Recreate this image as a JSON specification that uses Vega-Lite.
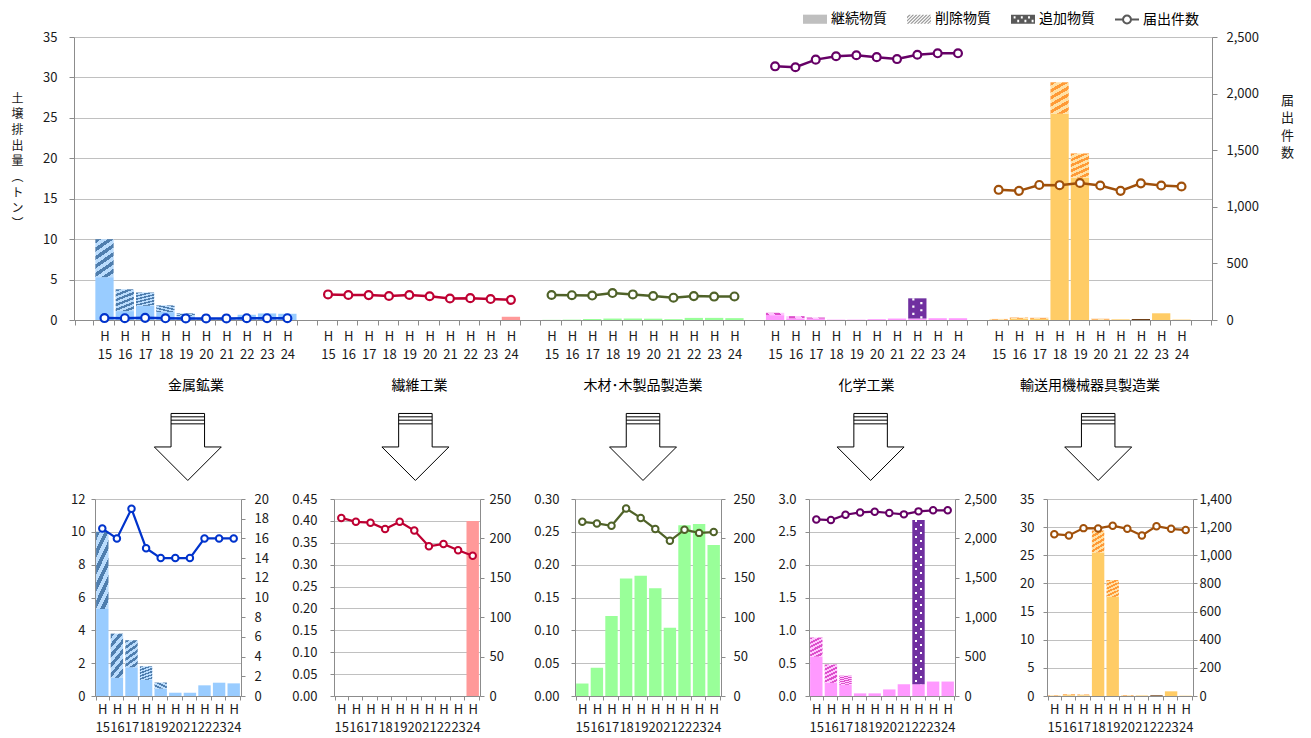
{
  "$schema": "https://vega.github.io/schema/vega-lite/v6.json",
  "background": "white",
  "padding": {"left": 10, "top": 6, "right": 5, "bottom": 0},
  "bounds": "flush",
  "spacing": 0,
  "config": {
    "font": "Noto Sans CJK JP",
    "view": {"stroke": null},
    "axis": {
      "labelFont": "Noto Sans CJK JP",
      "titleFont": "Noto Sans CJK JP",
      "labelFontSize": 13,
      "labelColor": "#1a1a1a",
      "titleColor": "#1a1a1a",
      "domainColor": "#8c8c8c",
      "tickColor": "#8c8c8c",
      "gridColor": "#c0c0c0",
      "gridWidth": 1.2,
      "domainWidth": 1
    },
    "text": {"font": "Noto Sans CJK JP"}
  },
  "datasets": {
    "bars": [
      {"ind": "金属鉱業", "yr": "H15", "type": "継続物質", "t": 5.3},
      {"ind": "金属鉱業", "yr": "H15", "type": "削除物質", "t": 4.7},
      {"ind": "金属鉱業", "yr": "H16", "type": "継続物質", "t": 1.1},
      {"ind": "金属鉱業", "yr": "H16", "type": "削除物質", "t": 2.7},
      {"ind": "金属鉱業", "yr": "H17", "type": "継続物質", "t": 1.75},
      {"ind": "金属鉱業", "yr": "H17", "type": "削除物質", "t": 1.65},
      {"ind": "金属鉱業", "yr": "H18", "type": "継続物質", "t": 0.98},
      {"ind": "金属鉱業", "yr": "H18", "type": "削除物質", "t": 0.83},
      {"ind": "金属鉱業", "yr": "H19", "type": "継続物質", "t": 0.45},
      {"ind": "金属鉱業", "yr": "H19", "type": "削除物質", "t": 0.37},
      {"ind": "金属鉱業", "yr": "H20", "type": "継続物質", "t": 0.2},
      {"ind": "金属鉱業", "yr": "H21", "type": "継続物質", "t": 0.2},
      {"ind": "金属鉱業", "yr": "H22", "type": "継続物質", "t": 0.65},
      {"ind": "金属鉱業", "yr": "H23", "type": "継続物質", "t": 0.81},
      {"ind": "金属鉱業", "yr": "H24", "type": "継続物質", "t": 0.77},
      {"ind": "繊維工業", "yr": "H24", "type": "継続物質", "t": 0.4},
      {"ind": "木材･木製品製造業", "yr": "H15", "type": "継続物質", "t": 0.019},
      {"ind": "木材･木製品製造業", "yr": "H16", "type": "継続物質", "t": 0.043},
      {"ind": "木材･木製品製造業", "yr": "H17", "type": "継続物質", "t": 0.122},
      {"ind": "木材･木製品製造業", "yr": "H18", "type": "継続物質", "t": 0.179},
      {"ind": "木材･木製品製造業", "yr": "H19", "type": "継続物質", "t": 0.183},
      {"ind": "木材･木製品製造業", "yr": "H20", "type": "継続物質", "t": 0.164},
      {"ind": "木材･木製品製造業", "yr": "H21", "type": "継続物質", "t": 0.104},
      {"ind": "木材･木製品製造業", "yr": "H22", "type": "継続物質", "t": 0.26},
      {"ind": "木材･木製品製造業", "yr": "H23", "type": "継続物質", "t": 0.262},
      {"ind": "木材･木製品製造業", "yr": "H24", "type": "継続物質", "t": 0.23},
      {"ind": "化学工業", "yr": "H15", "type": "継続物質", "t": 0.6},
      {"ind": "化学工業", "yr": "H15", "type": "削除物質", "t": 0.29},
      {"ind": "化学工業", "yr": "H16", "type": "継続物質", "t": 0.2},
      {"ind": "化学工業", "yr": "H16", "type": "削除物質", "t": 0.28},
      {"ind": "化学工業", "yr": "H17", "type": "継続物質", "t": 0.17},
      {"ind": "化学工業", "yr": "H17", "type": "削除物質", "t": 0.14},
      {"ind": "化学工業", "yr": "H18", "type": "継続物質", "t": 0.04},
      {"ind": "化学工業", "yr": "H19", "type": "継続物質", "t": 0.04},
      {"ind": "化学工業", "yr": "H20", "type": "継続物質", "t": 0.1},
      {"ind": "化学工業", "yr": "H21", "type": "継続物質", "t": 0.18},
      {"ind": "化学工業", "yr": "H22", "type": "継続物質", "t": 0.18},
      {"ind": "化学工業", "yr": "H22", "type": "追加物質", "t": 2.5},
      {"ind": "化学工業", "yr": "H23", "type": "継続物質", "t": 0.22},
      {"ind": "化学工業", "yr": "H24", "type": "継続物質", "t": 0.22},
      {"ind": "輸送用機械器具製造業", "yr": "H15", "type": "継続物質", "t": 0.05},
      {"ind": "輸送用機械器具製造業", "yr": "H15", "type": "削除物質", "t": 0.08},
      {"ind": "輸送用機械器具製造業", "yr": "H16", "type": "継続物質", "t": 0.15},
      {"ind": "輸送用機械器具製造業", "yr": "H16", "type": "削除物質", "t": 0.15},
      {"ind": "輸送用機械器具製造業", "yr": "H17", "type": "継続物質", "t": 0.15},
      {"ind": "輸送用機械器具製造業", "yr": "H17", "type": "削除物質", "t": 0.12},
      {"ind": "輸送用機械器具製造業", "yr": "H18", "type": "継続物質", "t": 25.5},
      {"ind": "輸送用機械器具製造業", "yr": "H18", "type": "削除物質", "t": 3.9},
      {"ind": "輸送用機械器具製造業", "yr": "H19", "type": "継続物質", "t": 17.6},
      {"ind": "輸送用機械器具製造業", "yr": "H19", "type": "削除物質", "t": 3.0},
      {"ind": "輸送用機械器具製造業", "yr": "H20", "type": "継続物質", "t": 0.05},
      {"ind": "輸送用機械器具製造業", "yr": "H20", "type": "削除物質", "t": 0.1},
      {"ind": "輸送用機械器具製造業", "yr": "H21", "type": "継続物質", "t": 0.08},
      {"ind": "輸送用機械器具製造業", "yr": "H22", "type": "追加物質", "t": 0.12},
      {"ind": "輸送用機械器具製造業", "yr": "H23", "type": "継続物質", "t": 0.83},
      {"ind": "輸送用機械器具製造業", "yr": "H24", "type": "継続物質", "t": 0.05}
    ],
    "counts": [
      {"ind": "金属鉱業", "yr": "H15", "n": 17},
      {"ind": "金属鉱業", "yr": "H16", "n": 16},
      {"ind": "金属鉱業", "yr": "H17", "n": 19},
      {"ind": "金属鉱業", "yr": "H18", "n": 15},
      {"ind": "金属鉱業", "yr": "H19", "n": 14},
      {"ind": "金属鉱業", "yr": "H20", "n": 14},
      {"ind": "金属鉱業", "yr": "H21", "n": 14},
      {"ind": "金属鉱業", "yr": "H22", "n": 16},
      {"ind": "金属鉱業", "yr": "H23", "n": 16},
      {"ind": "金属鉱業", "yr": "H24", "n": 16},
      {"ind": "繊維工業", "yr": "H15", "n": 226},
      {"ind": "繊維工業", "yr": "H16", "n": 221},
      {"ind": "繊維工業", "yr": "H17", "n": 220},
      {"ind": "繊維工業", "yr": "H18", "n": 212},
      {"ind": "繊維工業", "yr": "H19", "n": 221},
      {"ind": "繊維工業", "yr": "H20", "n": 210},
      {"ind": "繊維工業", "yr": "H21", "n": 190},
      {"ind": "繊維工業", "yr": "H22", "n": 193},
      {"ind": "繊維工業", "yr": "H23", "n": 185},
      {"ind": "繊維工業", "yr": "H24", "n": 178},
      {"ind": "木材･木製品製造業", "yr": "H15", "n": 221},
      {"ind": "木材･木製品製造業", "yr": "H16", "n": 219},
      {"ind": "木材･木製品製造業", "yr": "H17", "n": 216},
      {"ind": "木材･木製品製造業", "yr": "H18", "n": 238},
      {"ind": "木材･木製品製造業", "yr": "H19", "n": 226},
      {"ind": "木材･木製品製造業", "yr": "H20", "n": 212},
      {"ind": "木材･木製品製造業", "yr": "H21", "n": 197},
      {"ind": "木材･木製品製造業", "yr": "H22", "n": 211},
      {"ind": "木材･木製品製造業", "yr": "H23", "n": 207},
      {"ind": "木材･木製品製造業", "yr": "H24", "n": 208},
      {"ind": "化学工業", "yr": "H15", "n": 2241},
      {"ind": "化学工業", "yr": "H16", "n": 2233},
      {"ind": "化学工業", "yr": "H17", "n": 2300},
      {"ind": "化学工業", "yr": "H18", "n": 2330},
      {"ind": "化学工業", "yr": "H19", "n": 2339},
      {"ind": "化学工業", "yr": "H20", "n": 2322},
      {"ind": "化学工業", "yr": "H21", "n": 2305},
      {"ind": "化学工業", "yr": "H22", "n": 2343},
      {"ind": "化学工業", "yr": "H23", "n": 2356},
      {"ind": "化学工業", "yr": "H24", "n": 2356},
      {"ind": "輸送用機械器具製造業", "yr": "H15", "n": 1150},
      {"ind": "輸送用機械器具製造業", "yr": "H16", "n": 1141},
      {"ind": "輸送用機械器具製造業", "yr": "H17", "n": 1193},
      {"ind": "輸送用機械器具製造業", "yr": "H18", "n": 1191},
      {"ind": "輸送用機械器具製造業", "yr": "H19", "n": 1210},
      {"ind": "輸送用機械器具製造業", "yr": "H20", "n": 1188},
      {"ind": "輸送用機械器具製造業", "yr": "H21", "n": 1141},
      {"ind": "輸送用機械器具製造業", "yr": "H22", "n": 1207},
      {"ind": "輸送用機械器具製造業", "yr": "H23", "n": 1188},
      {"ind": "輸送用機械器具製造業", "yr": "H24", "n": 1179}
    ],
    "inds": [
      {"ind": "金属鉱業"},
      {"ind": "繊維工業"},
      {"ind": "木材･木製品製造業"},
      {"ind": "化学工業"},
      {"ind": "輸送用機械器具製造業"}
    ]
  },
  "vconcat": [
    {
      "width": 1138,
      "height": 283,
      "encoding": {
        "x": {
          "field": "slot",
          "type": "nominal",
          "scale": {
            "domain": ["_0", "aH15", "aH16", "aH17", "aH18", "aH19", "aH20", "aH21", "aH22", "aH23", "aH24",
                       "_1", "bH15", "bH16", "bH17", "bH18", "bH19", "bH20", "bH21", "bH22", "bH23", "bH24",
                       "_2", "cH15", "cH16", "cH17", "cH18", "cH19", "cH20", "cH21", "cH22", "cH23", "cH24",
                       "_3", "dH15", "dH16", "dH17", "dH18", "dH19", "dH20", "dH21", "dH22", "dH23", "dH24",
                       "_4", "eH15", "eH16", "eH17", "eH18", "eH19", "eH20", "eH21", "eH22", "eH23", "eH24", "_5"],
            "paddingInner": 0.1,
            "paddingOuter": 0.05
          },
          "axis": {
            "title": null,
            "labelExpr": "isString(datum.value) && substring(datum.value, 0, 1) !== '_' ? ['H', substring(datum.value, 2)] : ''",
            "labelAngle": 0,
            "tickBand": "extent",
            "tickSize": 5,
            "labelPadding": 5,
            "labelLineHeight": 18,
            "labelOverlap": false,
            "grid": false
          }
        }
      },
      "layer": [
        {
          "data": {"name": "bars"},
          "transform": [
            {"calculate": "['a','b','c','d','e'][indexof(['金属鉱業','繊維工業','木材･木製品製造業','化学工業','輸送用機械器具製造業'], datum.ind)] + datum.yr", "as": "slot"},
            {"calculate": "indexof(['継続物質','削除物質','追加物質'], datum.type)", "as": "ord"},
            {"stack": "t", "groupby": ["slot"], "sort": [{"field": "ord", "order": "ascending"}], "as": ["t0", "t1"]}
          ],
          "encoding": {
            "y": {
              "field": "t1",
              "type": "quantitative",
              "scale": {"domain": [0, 35], "nice": false},
              "axis": {
                "title": ["土", "壌", "排", "出", "量", "︵", "ト", "ン", "︶"],
                "titleAngle": 0,
                "titleAlign": "center",
                "titleBaseline": "middle",
                "titleX": -57,
                "titleY": 61,
                "titleLineHeight": 15.7,
                "titleFontSize": 12,
                "titleFontWeight": "normal",
                "values": [0, 5, 10, 15, 20, 25, 30, 35],
                "grid": true,
                "tickSize": 5,
                "labelPadding": 12
              }
            },
            "y2": {"field": "t0"}
          },
          "layer": [
            {
              "mark": {"type": "bar"},
              "encoding": {
                "fill": {
                  "condition": [
                    {"test": "datum.type === '削除物質' && datum.ind === '金属鉱業'",
                     "value": {"gradient": "linear", "x1": 0, "y1": 0, "x2": 0.4, "y2": 1.2, "stops": [
                       {"offset": 0, "color": "#4F7EAE"}, {"offset": 0.083, "color": "#4F7EAE"}, {"offset": 0.083, "color": "#BADCFD"}, {"offset": 0.167, "color": "#BADCFD"},
                       {"offset": 0.167, "color": "#4F7EAE"}, {"offset": 0.25, "color": "#4F7EAE"}, {"offset": 0.25, "color": "#BADCFD"}, {"offset": 0.333, "color": "#BADCFD"},
                       {"offset": 0.333, "color": "#4F7EAE"}, {"offset": 0.417, "color": "#4F7EAE"}, {"offset": 0.417, "color": "#BADCFD"}, {"offset": 0.5, "color": "#BADCFD"},
                       {"offset": 0.5, "color": "#4F7EAE"}, {"offset": 0.583, "color": "#4F7EAE"}, {"offset": 0.583, "color": "#BADCFD"}, {"offset": 0.667, "color": "#BADCFD"},
                       {"offset": 0.667, "color": "#4F7EAE"}, {"offset": 0.75, "color": "#4F7EAE"}, {"offset": 0.75, "color": "#BADCFD"}, {"offset": 0.833, "color": "#BADCFD"},
                       {"offset": 0.833, "color": "#4F7EAE"}, {"offset": 0.917, "color": "#4F7EAE"}, {"offset": 0.917, "color": "#BADCFD"}, {"offset": 1, "color": "#BADCFD"}]}},
                    {"test": "datum.type === '削除物質' && datum.ind === '化学工業'",
                     "value": {"gradient": "linear", "x1": 0, "y1": 0, "x2": 0.4, "y2": 1.2, "stops": [
                       {"offset": 0, "color": "#DD4FCB"}, {"offset": 0.083, "color": "#DD4FCB"}, {"offset": 0.083, "color": "#FFC6FF"}, {"offset": 0.167, "color": "#FFC6FF"},
                       {"offset": 0.167, "color": "#DD4FCB"}, {"offset": 0.25, "color": "#DD4FCB"}, {"offset": 0.25, "color": "#FFC6FF"}, {"offset": 0.333, "color": "#FFC6FF"},
                       {"offset": 0.333, "color": "#DD4FCB"}, {"offset": 0.417, "color": "#DD4FCB"}, {"offset": 0.417, "color": "#FFC6FF"}, {"offset": 0.5, "color": "#FFC6FF"},
                       {"offset": 0.5, "color": "#DD4FCB"}, {"offset": 0.583, "color": "#DD4FCB"}, {"offset": 0.583, "color": "#FFC6FF"}, {"offset": 0.667, "color": "#FFC6FF"},
                       {"offset": 0.667, "color": "#DD4FCB"}, {"offset": 0.75, "color": "#DD4FCB"}, {"offset": 0.75, "color": "#FFC6FF"}, {"offset": 0.833, "color": "#FFC6FF"},
                       {"offset": 0.833, "color": "#DD4FCB"}, {"offset": 0.917, "color": "#DD4FCB"}, {"offset": 0.917, "color": "#FFC6FF"}, {"offset": 1, "color": "#FFC6FF"}]}},
                    {"test": "datum.type === '削除物質' && datum.ind === '輸送用機械器具製造業'",
                     "value": {"gradient": "linear", "x1": 0, "y1": 0, "x2": 0.4, "y2": 1.2, "stops": [
                       {"offset": 0, "color": "#FF9A36"}, {"offset": 0.083, "color": "#FF9A36"}, {"offset": 0.083, "color": "#FFE1A6"}, {"offset": 0.167, "color": "#FFE1A6"},
                       {"offset": 0.167, "color": "#FF9A36"}, {"offset": 0.25, "color": "#FF9A36"}, {"offset": 0.25, "color": "#FFE1A6"}, {"offset": 0.333, "color": "#FFE1A6"},
                       {"offset": 0.333, "color": "#FF9A36"}, {"offset": 0.417, "color": "#FF9A36"}, {"offset": 0.417, "color": "#FFE1A6"}, {"offset": 0.5, "color": "#FFE1A6"},
                       {"offset": 0.5, "color": "#FF9A36"}, {"offset": 0.583, "color": "#FF9A36"}, {"offset": 0.583, "color": "#FFE1A6"}, {"offset": 0.667, "color": "#FFE1A6"},
                       {"offset": 0.667, "color": "#FF9A36"}, {"offset": 0.75, "color": "#FF9A36"}, {"offset": 0.75, "color": "#FFE1A6"}, {"offset": 0.833, "color": "#FFE1A6"},
                       {"offset": 0.833, "color": "#FF9A36"}, {"offset": 0.917, "color": "#FF9A36"}, {"offset": 0.917, "color": "#FFE1A6"}, {"offset": 1, "color": "#FFE1A6"}]}},
                    {"test": "datum.type === '追加物質' && datum.ind === '化学工業'", "value": "#7030A0"},
                    {"test": "datum.type === '追加物質'", "value": "#6B3A10"}
                  ],
                  "field": "ind",
                  "type": "nominal",
                  "scale": {
                    "domain": ["金属鉱業", "繊維工業", "木材･木製品製造業", "化学工業", "輸送用機械器具製造業"],
                    "range": ["#99CCFF", "#FF9999", "#99FF99", "#FF99FF", "#FFCC66"]
                  },
                  "legend": null
                }
              }
            },
            {
              "transform": [{"filter": "datum.type === '追加物質' && datum.ind === '化学工業'"}],
              "mark": {"type": "rule", "stroke": "white", "strokeWidth": 2.2, "strokeDash": [2.2, 5], "strokeCap": "butt", "xOffset": -4}
            },
            {
              "transform": [{"filter": "datum.type === '追加物質' && datum.ind === '化学工業'"}],
              "mark": {"type": "rule", "stroke": "white", "strokeWidth": 2.2, "strokeDash": [2.2, 5], "strokeDashOffset": 3.6, "strokeCap": "butt", "xOffset": 4}
            }
          ]
        },
        {
          "data": {"name": "counts"},
          "transform": [
            {"calculate": "['a','b','c','d','e'][indexof(['金属鉱業','繊維工業','木材･木製品製造業','化学工業','輸送用機械器具製造業'], datum.ind)] + datum.yr", "as": "slot"}
          ],
          "encoding": {
            "y": {
              "field": "n",
              "type": "quantitative",
              "scale": {"domain": [0, 2500], "nice": false},
              "axis": {
                "orient": "right",
                "title": ["届", "出", "件", "数"],
                "titleAngle": 0,
                "titleAlign": "center",
                "titleBaseline": "middle",
                "titleX": 75,
                "titleY": 63,
                "titleLineHeight": 17.5,
                "titleFontSize": 13,
                "titleFontWeight": "normal",
                "values": [0, 500, 1000, 1500, 2000, 2500],
                "format": ",.0f",
                "grid": false,
                "tickSize": 5,
                "labelPadding": 9
              }
            },
            "stroke": {
              "field": "ind",
              "type": "nominal",
              "scale": {
                "domain": ["金属鉱業", "繊維工業", "木材･木製品製造業", "化学工業", "輸送用機械器具製造業"],
                "range": ["#0033CC", "#BE0032", "#4F6228", "#660066", "#A0500A"]
              },
              "legend": null
            }
          },
          "layer": [
            {"mark": {"type": "line", "strokeWidth": 2.5}},
            {"mark": {"type": "point", "filled": true, "fill": "white", "size": 62, "strokeWidth": 2.2, "opacity": 1}}
          ]
        },
        {
          "data": {"values": [{"item": "継続物質"}, {"item": "削除物質"}, {"item": "追加物質"}, {"item": "届出件数"}]},
          "transform": [{"filter": "false"}],
          "mark": {"type": "point", "filled": true, "opacity": 1},
          "encoding": {
            "shape": {
              "field": "item",
              "type": "nominal",
              "scale": {
                "domain": ["継続物質", "削除物質", "追加物質", "届出件数"],
                "range": [
                  "M-1,-0.38H1V0.38H-1Z",
                  "M-1,-0.06L-1,-0.2L-0.82,-0.38L-0.68,-0.38Z M-1,0.22L-1,0.08L-0.54,-0.38L-0.4,-0.38Z M-1,0.36L-0.26,-0.38L-0.12,-0.38L-0.88,0.38L-1,0.38Z M-0.74,0.38L0.02,-0.38L0.16,-0.38L-0.6,0.38Z M-0.46,0.38L0.3,-0.38L0.44,-0.38L-0.32,0.38Z M-0.18,0.38L0.58,-0.38L0.72,-0.38L-0.04,0.38Z M0.1,0.38L0.86,-0.38L1,-0.38L0.24,0.38Z M0.38,0.38L1,-0.24L1,-0.1L0.52,0.38Z M0.66,0.38L1,0.04L1,0.18L0.8,0.38Z M0.94,0.38L1,0.32L1,0.38Z",
                  "M-1,-0.38H1V0.38H-1Z M-0.78,-0.25V-0.05H-0.62V-0.25Z M-0.18,-0.25V-0.05H-0.02V-0.25Z M0.42,-0.25V-0.05H0.58V-0.25Z M-0.48,0.05V0.25H-0.32V0.05Z M0.12,0.05V0.25H0.28V0.05Z M0.72,0.05V0.25H0.88V0.05Z",
                  "M-1,0H-0.33M0.33,0H1M0.33,0A0.33,0.33,0,1,1,-0.33,0A0.33,0.33,0,1,1,0.33,0"
                ]
              },
              "legend": {
                "title": null, "orient": "none", "legendX": 728, "legendY": -31, "direction": "horizontal", "columns": 4,
                "columnPadding": 16, "symbolSize": 576, "symbolStrokeWidth": 2, "symbolOpacity": 1,
                "labelFont": "Noto Sans CJK JP", "labelFontSize": 14, "labelColor": "#000000", "labelOffset": 3, "padding": 0
              }
            },
            "fill": {
              "field": "item",
              "type": "nominal",
              "scale": {
                "domain": ["継続物質", "削除物質", "追加物質", "届出件数"],
                "range": ["#BFBFBF", "#9A9A9A", "#595959", "#FFFFFF"]
              },
              "legend": {
                "title": null, "orient": "none", "legendX": 728, "legendY": -31, "direction": "horizontal", "columns": 4,
                "columnPadding": 16, "symbolSize": 576, "symbolStrokeWidth": 2, "symbolOpacity": 1,
                "labelFont": "Noto Sans CJK JP", "labelFontSize": 14, "labelColor": "#000000", "labelOffset": 3, "padding": 0
              }
            },
            "stroke": {
              "field": "item",
              "type": "nominal",
              "scale": {
                "domain": ["継続物質", "削除物質", "追加物質", "届出件数"],
                "range": ["transparent", "transparent", "transparent", "#595959"]
              },
              "legend": {
                "title": null, "orient": "none", "legendX": 728, "legendY": -31, "direction": "horizontal", "columns": 4,
                "columnPadding": 16, "symbolSize": 576, "symbolStrokeWidth": 2, "symbolOpacity": 1,
                "labelFont": "Noto Sans CJK JP", "labelFontSize": 14, "labelColor": "#000000", "labelOffset": 3, "padding": 0
              }
            }
          }
        }
      ],
      "resolve": {"scale": {"y": "independent", "fill": "independent", "stroke": "independent", "shape": "independent"}}
    },
    {
      "width": 1138,
      "height": 179,
      "data": {"name": "inds"},
      "layer": [
        {
          "mark": {"type": "text", "fontSize": 14, "color": "#000000", "font": "Noto Sans CJK JP"},
          "encoding": {
            "x": {"field": "ind", "type": "nominal", "sort": null, "scale": {"type": "point", "domain": ["金属鉱業", "繊維工業", "木材･木製品製造業", "化学工業", "輸送用機械器具製造業"], "padding": 0.546}, "axis": null},
            "y": {"datum": "name", "type": "nominal", "scale": {"type": "point", "domain": ["name", "arrow"], "padding": 0.967, "align": 0.559}, "axis": null},
            "text": {"field": "ind"}
          }
        },
        {
          "mark": {
            "type": "point",
            "shape": "M-0.5,-1L0.5,-1L0.5,0L1,0L0,1L-1,0L-0.5,0Z M-0.5,-0.9L0.5,-0.9 M-0.5,-0.8L0.5,-0.8 M-0.5,-0.69L0.5,-0.69",
            "size": 4489,
            "filled": true,
            "fill": "#FFFFFF",
            "stroke": "#000000",
            "strokeWidth": 1,
            "opacity": 1
          },
          "encoding": {
            "x": {"field": "ind", "type": "nominal", "sort": null, "scale": {"type": "point", "domain": ["金属鉱業", "繊維工業", "木材･木製品製造業", "化学工業", "輸送用機械器具製造業"], "padding": 0.5}, "axis": null},
            "y": {"datum": "arrow", "type": "nominal", "scale": {"type": "point", "domain": ["name", "arrow"], "padding": 0.967, "align": 0.559}, "axis": null}
          }
        }
      ],
      "resolve": {"scale": {"x": "independent"}}
    },
    {
      "bounds": "full",
      "spacing": -24,
      "hconcat": [
        {
          "width": 0,
          "height": 1,
          "data": {"values": []},
          "mark": {"type": "point", "opacity": 0}
        },
        {
          "bounds": "full",
          "spacing": 22,
          "hconcat": [
            {
              "width": 146,
              "height": 197,
              "encoding": {
                "x": {"field": "yr", "type": "nominal", "scale": {"domain": ["H15", "H16", "H17", "H18", "H19", "H20", "H21", "H22", "H23", "H24"], "paddingInner": 0.15, "paddingOuter": 0.075},
                      "axis": {"title": null, "labelExpr": "isString(datum.value) ? ['H', substring(datum.value, 1)] : ''", "labelAngle": 0, "tickBand": "extent", "tickSize": 4, "labelPadding": 3, "labelLineHeight": 18, "labelOverlap": false, "grid": false}}
              },
              "layer": [
                {
                  "data": {"name": "bars"},
                  "transform": [
                    {"filter": "datum.ind === '金属鉱業'"},
                    {"calculate": "indexof(['継続物質','削除物質','追加物質'], datum.type)", "as": "ord"},
                    {"stack": "t", "groupby": ["yr"], "sort": [{"field": "ord", "order": "ascending"}], "as": ["t0", "t1"]}
                  ],
                  "mark": {"type": "bar"},
                  "encoding": {
                    "y": {"field": "t1", "type": "quantitative", "scale": {"domain": [0, 12], "nice": false},
                          "axis": {"title": null, "values": [0, 2, 4, 6, 8, 10, 12], "grid": true, "tickSize": 4, "labelPadding": 6}},
                    "y2": {"field": "t0"},
                    "fill": {
                      "condition": {"test": "datum.type === '削除物質'",
                        "value": {"gradient": "linear", "x1": 0, "y1": 0, "x2": 0.4, "y2": 1.2, "stops": [
                          {"offset": 0, "color": "#4F7EAE"}, {"offset": 0.083, "color": "#4F7EAE"}, {"offset": 0.083, "color": "#BADCFD"}, {"offset": 0.167, "color": "#BADCFD"},
                          {"offset": 0.167, "color": "#4F7EAE"}, {"offset": 0.25, "color": "#4F7EAE"}, {"offset": 0.25, "color": "#BADCFD"}, {"offset": 0.333, "color": "#BADCFD"},
                          {"offset": 0.333, "color": "#4F7EAE"}, {"offset": 0.417, "color": "#4F7EAE"}, {"offset": 0.417, "color": "#BADCFD"}, {"offset": 0.5, "color": "#BADCFD"},
                          {"offset": 0.5, "color": "#4F7EAE"}, {"offset": 0.583, "color": "#4F7EAE"}, {"offset": 0.583, "color": "#BADCFD"}, {"offset": 0.667, "color": "#BADCFD"},
                          {"offset": 0.667, "color": "#4F7EAE"}, {"offset": 0.75, "color": "#4F7EAE"}, {"offset": 0.75, "color": "#BADCFD"}, {"offset": 0.833, "color": "#BADCFD"},
                          {"offset": 0.833, "color": "#4F7EAE"}, {"offset": 0.917, "color": "#4F7EAE"}, {"offset": 0.917, "color": "#BADCFD"}, {"offset": 1, "color": "#BADCFD"}]}},
                      "value": "#99CCFF"
                    }
                  }
                },
                {
                  "data": {"name": "counts"},
                  "transform": [{"filter": "datum.ind === '金属鉱業'"}],
                  "encoding": {
                    "y": {"field": "n", "type": "quantitative", "scale": {"domain": [0, 20], "nice": false},
                          "axis": {"orient": "right", "title": null, "values": [0, 2, 4, 6, 8, 10, 12, 14, 16, 18, 20], "grid": false, "tickSize": 4, "labelPadding": 9}}
                  },
                  "layer": [
                    {"mark": {"type": "line", "stroke": "#0033CC", "strokeWidth": 2.2}},
                    {"mark": {"type": "point", "filled": true, "fill": "white", "stroke": "#0033CC", "strokeWidth": 2, "size": 42, "opacity": 1}}
                  ]
                }
              ],
              "resolve": {"scale": {"y": "independent"}}
            },
            {
              "width": 146,
              "height": 197,
              "encoding": {
                "x": {"field": "yr", "type": "nominal", "scale": {"domain": ["H15", "H16", "H17", "H18", "H19", "H20", "H21", "H22", "H23", "H24"], "paddingInner": 0.15, "paddingOuter": 0.075},
                      "axis": {"title": null, "labelExpr": "isString(datum.value) ? ['H', substring(datum.value, 1)] : ''", "labelAngle": 0, "tickBand": "extent", "tickSize": 4, "labelPadding": 3, "labelLineHeight": 18, "labelOverlap": false, "grid": false}}
              },
              "layer": [
                {
                  "data": {"name": "bars"},
                  "transform": [
                    {"filter": "datum.ind === '繊維工業'"},
                    {"calculate": "indexof(['継続物質','削除物質','追加物質'], datum.type)", "as": "ord"},
                    {"stack": "t", "groupby": ["yr"], "sort": [{"field": "ord", "order": "ascending"}], "as": ["t0", "t1"]}
                  ],
                  "mark": {"type": "bar", "fill": "#FF9999"},
                  "encoding": {
                    "y": {"field": "t1", "type": "quantitative", "scale": {"domain": [0, 0.45], "nice": false},
                          "axis": {"title": null, "values": [0, 0.05, 0.1, 0.15, 0.2, 0.25, 0.3, 0.35, 0.4, 0.45], "format": ".2f", "grid": true, "tickSize": 4, "labelPadding": 13}},
                    "y2": {"field": "t0"}
                  }
                },
                {
                  "data": {"name": "counts"},
                  "transform": [{"filter": "datum.ind === '繊維工業'"}],
                  "encoding": {
                    "y": {"field": "n", "type": "quantitative", "scale": {"domain": [0, 250], "nice": false},
                          "axis": {"orient": "right", "title": null, "values": [0, 50, 100, 150, 200, 250], "grid": false, "tickSize": 4, "labelPadding": 5}}
                  },
                  "layer": [
                    {"mark": {"type": "line", "stroke": "#BE0032", "strokeWidth": 2.2}},
                    {"mark": {"type": "point", "filled": true, "fill": "white", "stroke": "#BE0032", "strokeWidth": 2, "size": 42, "opacity": 1}}
                  ]
                }
              ],
              "resolve": {"scale": {"y": "independent"}}
            },
            {
              "width": 146,
              "height": 197,
              "encoding": {
                "x": {"field": "yr", "type": "nominal", "scale": {"domain": ["H15", "H16", "H17", "H18", "H19", "H20", "H21", "H22", "H23", "H24"], "paddingInner": 0.15, "paddingOuter": 0.075},
                      "axis": {"title": null, "labelExpr": "isString(datum.value) ? ['H', substring(datum.value, 1)] : ''", "labelAngle": 0, "tickBand": "extent", "tickSize": 4, "labelPadding": 3, "labelLineHeight": 18, "labelOverlap": false, "grid": false}}
              },
              "layer": [
                {
                  "data": {"name": "bars"},
                  "transform": [
                    {"filter": "datum.ind === '木材･木製品製造業'"},
                    {"calculate": "indexof(['継続物質','削除物質','追加物質'], datum.type)", "as": "ord"},
                    {"stack": "t", "groupby": ["yr"], "sort": [{"field": "ord", "order": "ascending"}], "as": ["t0", "t1"]}
                  ],
                  "mark": {"type": "bar", "fill": "#99FF99"},
                  "encoding": {
                    "y": {"field": "t1", "type": "quantitative", "scale": {"domain": [0, 0.3], "nice": false},
                          "axis": {"title": null, "values": [0, 0.05, 0.1, 0.15, 0.2, 0.25, 0.3], "format": ".2f", "grid": true, "tickSize": 4, "labelPadding": 12}},
                    "y2": {"field": "t0"}
                  }
                },
                {
                  "data": {"name": "counts"},
                  "transform": [{"filter": "datum.ind === '木材･木製品製造業'"}],
                  "encoding": {
                    "y": {"field": "n", "type": "quantitative", "scale": {"domain": [0, 250], "nice": false},
                          "axis": {"orient": "right", "title": null, "values": [0, 50, 100, 150, 200, 250], "grid": false, "tickSize": 4, "labelPadding": 8}}
                  },
                  "layer": [
                    {"mark": {"type": "line", "stroke": "#4F6228", "strokeWidth": 2.2}},
                    {"mark": {"type": "point", "filled": true, "fill": "white", "stroke": "#4F6228", "strokeWidth": 2, "size": 42, "opacity": 1}}
                  ]
                }
              ],
              "resolve": {"scale": {"y": "independent"}}
            },
            {
              "width": 146,
              "height": 197,
              "encoding": {
                "x": {"field": "yr", "type": "nominal", "scale": {"domain": ["H15", "H16", "H17", "H18", "H19", "H20", "H21", "H22", "H23", "H24"], "paddingInner": 0.15, "paddingOuter": 0.075},
                      "axis": {"title": null, "labelExpr": "isString(datum.value) ? ['H', substring(datum.value, 1)] : ''", "labelAngle": 0, "tickBand": "extent", "tickSize": 4, "labelPadding": 3, "labelLineHeight": 18, "labelOverlap": false, "grid": false}}
              },
              "layer": [
                {
                  "data": {"name": "bars"},
                  "transform": [
                    {"filter": "datum.ind === '化学工業'"},
                    {"calculate": "indexof(['継続物質','削除物質','追加物質'], datum.type)", "as": "ord"},
                    {"stack": "t", "groupby": ["yr"], "sort": [{"field": "ord", "order": "ascending"}], "as": ["t0", "t1"]}
                  ],
                  "encoding": {
                    "y": {"field": "t1", "type": "quantitative", "scale": {"domain": [0, 3], "nice": false},
                          "axis": {"title": null, "values": [0, 0.5, 1, 1.5, 2, 2.5, 3], "format": ".1f", "grid": true, "tickSize": 4, "labelPadding": 9}},
                    "y2": {"field": "t0"}
                  },
                  "layer": [
                    {
                      "mark": {"type": "bar"},
                      "encoding": {
                        "fill": {
                          "condition": [
                            {"test": "datum.type === '削除物質'",
                             "value": {"gradient": "linear", "x1": 0, "y1": 0, "x2": 0.4, "y2": 1.2, "stops": [
                               {"offset": 0, "color": "#DD4FCB"}, {"offset": 0.083, "color": "#DD4FCB"}, {"offset": 0.083, "color": "#FFC6FF"}, {"offset": 0.167, "color": "#FFC6FF"},
                               {"offset": 0.167, "color": "#DD4FCB"}, {"offset": 0.25, "color": "#DD4FCB"}, {"offset": 0.25, "color": "#FFC6FF"}, {"offset": 0.333, "color": "#FFC6FF"},
                               {"offset": 0.333, "color": "#DD4FCB"}, {"offset": 0.417, "color": "#DD4FCB"}, {"offset": 0.417, "color": "#FFC6FF"}, {"offset": 0.5, "color": "#FFC6FF"},
                               {"offset": 0.5, "color": "#DD4FCB"}, {"offset": 0.583, "color": "#DD4FCB"}, {"offset": 0.583, "color": "#FFC6FF"}, {"offset": 0.667, "color": "#FFC6FF"},
                               {"offset": 0.667, "color": "#DD4FCB"}, {"offset": 0.75, "color": "#DD4FCB"}, {"offset": 0.75, "color": "#FFC6FF"}, {"offset": 0.833, "color": "#FFC6FF"},
                               {"offset": 0.833, "color": "#DD4FCB"}, {"offset": 0.917, "color": "#DD4FCB"}, {"offset": 0.917, "color": "#FFC6FF"}, {"offset": 1, "color": "#FFC6FF"}]}},
                            {"test": "datum.type === '追加物質'", "value": "#7030A0"}
                          ],
                          "value": "#FF99FF"
                        }
                      }
                    },
                    {
                      "transform": [{"filter": "datum.type === '追加物質'"}],
                      "mark": {"type": "rule", "stroke": "white", "strokeWidth": 2, "strokeDash": [2, 6], "strokeCap": "butt", "xOffset": -2.5}
                    },
                    {
                      "transform": [{"filter": "datum.type === '追加物質'"}],
                      "mark": {"type": "rule", "stroke": "white", "strokeWidth": 2, "strokeDash": [2, 6], "strokeDashOffset": 4, "strokeCap": "butt", "xOffset": 2.5}
                    }
                  ]
                },
                {
                  "data": {"name": "counts"},
                  "transform": [{"filter": "datum.ind === '化学工業'"}],
                  "encoding": {
                    "y": {"field": "n", "type": "quantitative", "scale": {"domain": [0, 2500], "nice": false},
                          "axis": {"orient": "right", "title": null, "values": [0, 500, 1000, 1500, 2000, 2500], "format": ",.0f", "grid": false, "tickSize": 4, "labelPadding": 5}}
                  },
                  "layer": [
                    {"mark": {"type": "line", "stroke": "#660066", "strokeWidth": 2.2}},
                    {"mark": {"type": "point", "filled": true, "fill": "white", "stroke": "#660066", "strokeWidth": 2, "size": 42, "opacity": 1}}
                  ]
                }
              ],
              "resolve": {"scale": {"y": "independent"}}
            },
            {
              "width": 146,
              "height": 197,
              "encoding": {
                "x": {"field": "yr", "type": "nominal", "scale": {"domain": ["H15", "H16", "H17", "H18", "H19", "H20", "H21", "H22", "H23", "H24"], "paddingInner": 0.15, "paddingOuter": 0.075},
                      "axis": {"title": null, "labelExpr": "isString(datum.value) ? ['H', substring(datum.value, 1)] : ''", "labelAngle": 0, "tickBand": "extent", "tickSize": 4, "labelPadding": 3, "labelLineHeight": 18, "labelOverlap": false, "grid": false}}
              },
              "layer": [
                {
                  "data": {"name": "bars"},
                  "transform": [
                    {"filter": "datum.ind === '輸送用機械器具製造業'"},
                    {"calculate": "indexof(['継続物質','削除物質','追加物質'], datum.type)", "as": "ord"},
                    {"stack": "t", "groupby": ["yr"], "sort": [{"field": "ord", "order": "ascending"}], "as": ["t0", "t1"]}
                  ],
                  "mark": {"type": "bar"},
                  "encoding": {
                    "y": {"field": "t1", "type": "quantitative", "scale": {"domain": [0, 35], "nice": false},
                          "axis": {"title": null, "values": [0, 5, 10, 15, 20, 25, 30, 35], "grid": true, "tickSize": 4, "labelPadding": 9}},
                    "y2": {"field": "t0"},
                    "fill": {
                      "condition": [
                        {"test": "datum.type === '削除物質'",
                         "value": {"gradient": "linear", "x1": 0, "y1": 0, "x2": 0.4, "y2": 1.2, "stops": [
                           {"offset": 0, "color": "#FF9A36"}, {"offset": 0.083, "color": "#FF9A36"}, {"offset": 0.083, "color": "#FFE1A6"}, {"offset": 0.167, "color": "#FFE1A6"},
                           {"offset": 0.167, "color": "#FF9A36"}, {"offset": 0.25, "color": "#FF9A36"}, {"offset": 0.25, "color": "#FFE1A6"}, {"offset": 0.333, "color": "#FFE1A6"},
                           {"offset": 0.333, "color": "#FF9A36"}, {"offset": 0.417, "color": "#FF9A36"}, {"offset": 0.417, "color": "#FFE1A6"}, {"offset": 0.5, "color": "#FFE1A6"},
                           {"offset": 0.5, "color": "#FF9A36"}, {"offset": 0.583, "color": "#FF9A36"}, {"offset": 0.583, "color": "#FFE1A6"}, {"offset": 0.667, "color": "#FFE1A6"},
                           {"offset": 0.667, "color": "#FF9A36"}, {"offset": 0.75, "color": "#FF9A36"}, {"offset": 0.75, "color": "#FFE1A6"}, {"offset": 0.833, "color": "#FFE1A6"},
                           {"offset": 0.833, "color": "#FF9A36"}, {"offset": 0.917, "color": "#FF9A36"}, {"offset": 0.917, "color": "#FFE1A6"}, {"offset": 1, "color": "#FFE1A6"}]}},
                        {"test": "datum.type === '追加物質'", "value": "#6B3A10"}
                      ],
                      "value": "#FFCC66"
                    }
                  }
                },
                {
                  "data": {"name": "counts"},
                  "transform": [{"filter": "datum.ind === '輸送用機械器具製造業'"}],
                  "encoding": {
                    "y": {"field": "n", "type": "quantitative", "scale": {"domain": [0, 1400], "nice": false},
                          "axis": {"orient": "right", "title": null, "values": [0, 200, 400, 600, 800, 1000, 1200, 1400], "format": ",.0f", "grid": false, "tickSize": 4, "labelPadding": 2}}
                  },
                  "layer": [
                    {"mark": {"type": "line", "stroke": "#A0500A", "strokeWidth": 2.2}},
                    {"mark": {"type": "point", "filled": true, "fill": "white", "stroke": "#A0500A", "strokeWidth": 2, "size": 42, "opacity": 1}}
                  ]
                }
              ],
              "resolve": {"scale": {"y": "independent"}}
            }
          ]
        }
      ]
    }
  ]
}
